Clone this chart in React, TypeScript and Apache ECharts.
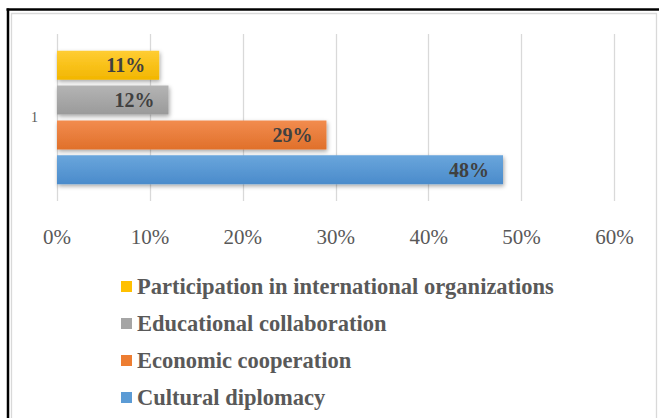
import React, { useEffect, useRef } from "react";
import * as echarts from "echarts";

const categories = ["1"];
const seriesNames = [
  "Participation in international organizations",
  "Educational collaboration",
  "Economic cooperation",
  "Cultural diplomacy",
];
const participation = [0.11];
const educational = [0.12];
const economic = [0.29];
const cultural = [0.48];
const xTicks = [0, 0.1, 0.2, 0.3, 0.4, 0.5, 0.6];

const FONT = "'Liberation Serif', 'Times New Roman', serif";

const palette = [
  { top: "#FFCD33", bottom: "#F2B600", flat: "#FFC000" },
  { top: "#B4B4B4", bottom: "#9A9A9A", flat: "#A5A5A5" },
  { top: "#F28C4F", bottom: "#E0702A", flat: "#ED7D31" },
  { top: "#6AA6DC", bottom: "#4A8BCB", flat: "#5B9BD5" },
];

export default function App() {
  const ref = useRef<HTMLDivElement>(null);
  useEffect(() => {
    if (!ref.current) return;
    const chart = echarts.init(ref.current, null, { renderer: "svg" });
    const values = [participation, educational, economic, cultural];
    const series = values.map((d, i) => ({
      name: seriesNames[i],
      type: "bar",
      data: d,
      barWidth: 29,
      barGap: "20%",
      itemStyle: {
        color: new echarts.graphic.LinearGradient(0, 0, 0, 1, [
          { offset: 0, color: palette[i].top },
          { offset: 1, color: palette[i].bottom },
        ]),
        shadowColor: "rgba(0,0,0,0.35)",
        shadowBlur: 4,
        shadowOffsetX: 1,
        shadowOffsetY: 2,
      },
      label: {
        show: true,
        position: "insideRight",
        distance: 14,
        formatter: (p: any) => Math.round(p.value * 100) + "%",
        fontFamily: FONT,
        fontWeight: "bold",
        fontSize: 20,
        color: "#404040",
      },
    }));
    chart.setOption({
      animation: false,
      color: palette.map((p) => p.flat),
      grid: { left: 57, right: 44.5, top: 34, bottom: 217, containLabel: false },
      xAxis: {
        type: "value",
        min: xTicks[0],
        max: xTicks[xTicks.length - 1],
        interval: 0.1,
        axisLine: { show: false },
        axisTick: { show: false },
        splitLine: { show: true, lineStyle: { color: "#D9D9D9", width: 1.3 } },
        axisLabel: {
          formatter: (v: number) => Math.round(v * 100) + "%",
          fontFamily: FONT,
          fontSize: 21,
          color: "#595959",
          margin: 25,
        },
      },
      yAxis: {
        type: "category",
        data: categories,
        axisLine: { show: false },
        axisTick: { show: false },
        axisLabel: { fontFamily: FONT, fontSize: 14, color: "#595959", margin: 19 },
      },
      legend: {
        orient: "vertical",
        left: 121,
        top: 275,
        padding: 0,
        data: seriesNames.map((n, i) => ({ name: n, itemStyle: { color: palette[i].flat, shadowBlur: 0, shadowOffsetX: 0, shadowOffsetY: 0 } })),
        icon: "rect",
        itemWidth: 11,
        itemHeight: 11,
        itemGap: 14,
        textStyle: {
          fontFamily: FONT,
          fontWeight: "bold",
          fontSize: 22.5,
          lineHeight: 22,
          color: "#595959",
        },
      },
      graphic: [
        {
          type: "rect",
          silent: true,
          shape: { x: 11.5, y: 13.5, width: 645, height: 420 },
          style: { fill: "none", stroke: "#D9D9D9", lineWidth: 1.3 },
        },
        {
          type: "line",
          silent: true,
          shape: { x1: 6.5, y1: 9.5, x2: 659, y2: 9.5 },
          style: { stroke: "#000", lineWidth: 2.5 },
        },
        {
          type: "line",
          silent: true,
          shape: { x1: 8, y1: 8.5, x2: 8, y2: 418 },
          style: { stroke: "#000", lineWidth: 2.5 },
        },
      ],
      series,
    });
    return () => chart.dispose();
  }, []);
  return (
    <div
      ref={ref}
      style={{ position: "fixed", left: 0, top: 0, width: 659, height: 418, background: "#fff" }}
    />
  );
}
